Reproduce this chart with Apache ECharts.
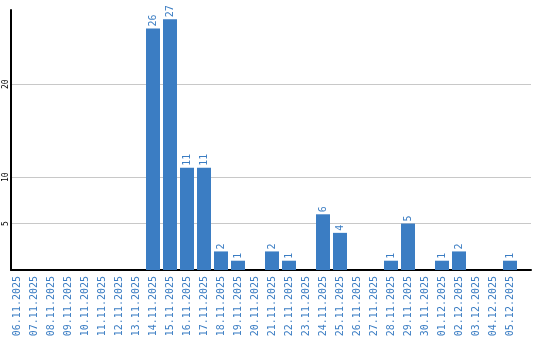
<!DOCTYPE html>
<html><head><meta charset="utf-8">
<script src="https://cdn.jsdelivr.net/npm/echarts@6/dist/echarts.min.js"></script>
<style>html,body{margin:0;padding:0;background:#fff}#c{width:540px;height:340px}</style>
</head><body><div id="c"></div>
<script>
var categories = ["06.11.2025","07.11.2025","08.11.2025","09.11.2025","10.11.2025","11.11.2025","12.11.2025","13.11.2025","14.11.2025","15.11.2025","16.11.2025","17.11.2025","18.11.2025","19.11.2025","20.11.2025","21.11.2025","22.11.2025","23.11.2025","24.11.2025","25.11.2025","26.11.2025","27.11.2025","28.11.2025","29.11.2025","30.11.2025","01.12.2025","02.12.2025","03.12.2025","04.12.2025","05.12.2025"];
var values = [0,0,0,0,0,0,0,0,26,27,11,11,2,1,0,2,1,0,6,4,0,0,1,5,0,1,2,0,0,1];
var yTicks = [5,10,20];
var yMax = 28;

var blue = '#3b7dc3';
var chart = echarts.init(document.getElementById('c'));
chart.setOption({
  animation: false,
  grid: [
    {left: 8.5, width: 510, top: 10, height: 260},
    {left: 11, width: 520, top: 10, height: 260}
  ],
  xAxis: [
    {gridIndex: 0, type: 'category', data: categories,
     axisLine: {show: false}, axisTick: {show: false},
     axisLabel: {interval: 0, rotate: 90, margin: 6, color: blue, fontFamily: 'DejaVu Sans Mono', fontSize: 10}},
    {gridIndex: 1, type: 'value', min: 0, max: 1,
     axisLine: {show: true, lineStyle: {color: '#000', width: 2}},
     axisTick: {show: false}, axisLabel: {show: false}, splitLine: {show: false}}
  ],
  yAxis: [
    {gridIndex: 0, type: 'value', min: 0, max: yMax, show: false},
    {gridIndex: 1, type: 'value', min: 0, max: yMax,
     axisLine: {show: true, lineStyle: {color: '#000', width: 2}},
     axisTick: {show: false},
     axisLabel: {customValues: yTicks, rotate: 90, margin: 1, color: '#000', fontFamily: 'DejaVu Sans Mono', fontSize: 8},
     splitLine: {show: false}}
  ],
  series: [
    {type: 'line', xAxisIndex: 1, yAxisIndex: 1, data: [], z: 0,
     markLine: {silent: true, symbol: ['none','none'], label: {show: false}, z: 0,
       lineStyle: {color: '#c8c8c8', type: 'solid', width: 1},
       data: yTicks.map(function(v){return {yAxis: v};})}},
    {type: 'bar', xAxisIndex: 0, yAxisIndex: 0, data: values, barWidth: 14, z: 3,
     itemStyle: {color: blue},
     label: {show: true, position: 'top', rotate: 90, align: 'left', verticalAlign: 'middle', distance: 2,
       color: blue, fontFamily: 'DejaVu Sans Mono', fontSize: 10,
       formatter: function(p){return p.value ? String(p.value) : '';}}}
  ]
});
</script></body></html>
